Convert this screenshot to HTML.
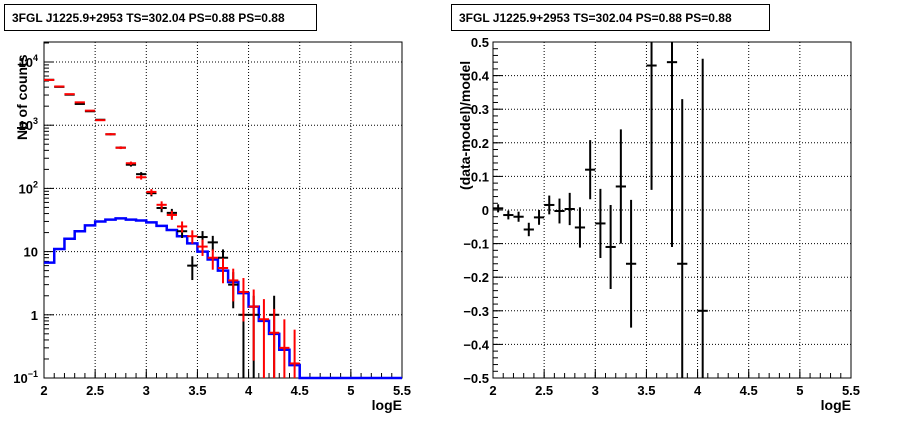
<!DOCTYPE html>
<html><head><meta charset="utf-8"><style>
body{margin:0;background:#fff;font-family:"Liberation Sans",sans-serif}
svg text{font-family:"Liberation Sans",sans-serif;font-weight:bold}
</style></head><body>
<svg id="c" width="898" height="421" xmlns="http://www.w3.org/2000/svg">
<rect width="898" height="421" fill="#fff"/>
<g><rect x="4.5" y="4.5" width="312" height="26" fill="#fff" stroke="#000"/><text x="12" y="22" font-size="12">3FGL J1225.9+2953 TS=302.04 PS=0.88 PS=0.88</text></g>
<g><rect x="451.5" y="4.5" width="318" height="26" fill="#fff" stroke="#000"/><text x="459" y="22" font-size="12">3FGL J1225.9+2953 TS=302.04 PS=0.88 PS=0.88</text></g>
<g id="L"></g><g id="R"></g>
<text x="27" y="140" font-size="14" transform="rotate(-90 27 140)">Nb of counts</text>
<text x="402" y="410" font-size="14" text-anchor="end">logE</text>
<text x="470" y="190" font-size="14" transform="rotate(-90 470 190)">(data-model)/model</text>
<text x="851" y="410" font-size="14" text-anchor="end">logE</text>
</svg>
<script>
const binCenters=[2.05,2.15,2.25,2.35,2.45,2.55,2.65,2.75,2.85,2.95,3.05,3.15,3.25,3.35,3.45,3.55,3.65,3.75,3.85,3.95,4.05,4.15,4.25,4.35,4.45];
const modelTotal=[5200,4100,3100,2300,1700,1200,720,440,250,150,88,55,38,25,17.5,12,8,5.5,3.5,2.3,1.35,0.85,0.52,0.3,0.17];
const sourceModel=[6.7,11,16,21,26,30,32,33.5,32,31,29,25.5,22,17.5,13.5,10,7.5,5,3.3,2.2,1.35,0.8,0.5,0.28,0.16];
const dataCounts=[5230,4040,3040,2170,1660,1220,718,441,237,168,84,49,41,21,6,17,14,8,3,1,1,0,1,0,0];
const resX=[2.05,2.15,2.25,2.35,2.45,2.55,2.65,2.75,2.85,2.95,3.05,3.15,3.25,3.35,3.55,3.75,3.85,4.05];
const resY=[0.005,-0.015,-0.02,-0.058,-0.022,0.015,-0.003,0.003,-0.052,0.12,-0.04,-0.11,0.07,-0.16,0.43,0.44,-0.16,-0.3];
const resErr=[0.012,0.013,0.015,0.02,0.022,0.028,0.037,0.048,0.06,0.088,0.103,0.125,0.17,0.19,0.37,0.55,0.49,0.75];
const xTicks=["2","2.5","3","3.5","4","4.5","5","5.5"];
const resTicks=["0.5","0.4","0.3","0.2","0.1","0","-0.1","-0.2","-0.3","-0.4","-0.5"];
const NS="http://www.w3.org/2000/svg";
function mk(p,t,a){const e=document.createElementNS(NS,t);for(const k in a)e.setAttribute(k,a[k]);p.appendChild(e);return e;}
const T=42,B=378;
// left
const L=document.getElementById('L');
const lx=v=>44+(v-2)/3.5*358;
const ly=v=>B-(Math.log10(v)+1)*63.2;
const clampY=y=>Math.max(T,Math.min(B,y));
function frame(g,x0){mk(g,'rect',{x:x0,y:T,width:358,height:B-T,fill:'none',stroke:'#000'});}
// grid x
xTicks.forEach((t,i)=>{const v=parseFloat(t);const x=lx(v);
 if(i>0&&i<xTicks.length-1){const l=mk(L,'line',{x1:x,x2:x,y1:T,y2:B,stroke:'#000','stroke-dasharray':'1 2'});}
 const tx=mk(L,'text',{x:x,y:395,'font-size':13,'text-anchor':'middle'});tx.textContent=t;
 
 mk(L,'line',{x1:x,x2:x,y1:B,y2:B-9,stroke:'#000'});});
for(let v=2;v<5.5;v+=0.1){mk(L,'line',{x1:lx(v),x2:lx(v),y1:B,y2:B-5,stroke:'#000'});}
const decLabels=["10<tspan dy='-6' font-size='9'>−1</tspan>","1","10","10<tspan dy='-6' font-size='9'>2</tspan>","10<tspan dy='-6' font-size='9'>3</tspan>","10<tspan dy='-6' font-size='9'>4</tspan>"];
for(let d=-1;d<=4;d++){const y=ly(Math.pow(10,d));
 if(d>-1){mk(L,'line',{x1:44,x2:402,y1:y,y2:y,stroke:'#000','stroke-dasharray':'1 2'});}
 const tx=mk(L,'text',{x:38,y:y+5,'font-size':13,'text-anchor':'end'});tx.innerHTML=decLabels[d+1];
 
 for(let m=1;m<10;m++){const yy=ly(m*Math.pow(10,d));if(yy<T)break;mk(L,'line',{x1:44,x2:44+(m==1?10:5),y1:yy,y2:yy,stroke:'#000'});}}
frame(L,44);
// blue histogram
let p='M'+lx(2)+','+ly(sourceModel[0]);
binCenters.forEach((c,i)=>{p+=' L'+lx(c-0.05)+','+ly(sourceModel[i])+' L'+lx(c+0.05)+','+ly(sourceModel[i]);});
p+=' L'+lx(4.5)+','+ly(0.1)+' L'+lx(5.5)+','+ly(0.1);
const bl=mk(L,'path',{d:p,fill:'none',stroke:'#0000ff','stroke-width':2.5});

// black data
binCenters.forEach((c,i)=>{const n=dataCounts[i];if(n<=0)return;const e=Math.sqrt(n);
 const g=mk(L,'g',{});
 const y=ly(n);mk(g,'line',{x1:lx(c-0.05),x2:lx(c+0.05),y1:y,y2:y,stroke:'#000','stroke-width':2});
 const lo=n-e>0?ly(n-e):B;mk(g,'line',{x1:lx(c),x2:lx(c),y1:clampY(ly(n+e)),y2:lo,stroke:'#000','stroke-width':2});});
// red model
binCenters.forEach((c,i)=>{const n=modelTotal[i];const e=Math.sqrt(n);
 const g=mk(L,'g',{});
 const y=ly(n);mk(g,'line',{x1:lx(c-0.05),x2:lx(c+0.05),y1:y,y2:y,stroke:'#ff0000','stroke-width':2});
 const lo=n-e>0.1?ly(n-e):B;mk(g,'line',{x1:lx(c),x2:lx(c),y1:clampY(ly(n+e)),y2:lo,stroke:'#ff0000','stroke-width':2});});
// right
const R=document.getElementById('R');
const rx=v=>493+(v-2)/3.5*358;
const ry=v=>T+(0.5-v)*(B-T);
xTicks.forEach((t,i)=>{const x=rx(parseFloat(t));
 if(i>0&&i<xTicks.length-1)mk(R,'line',{x1:x,x2:x,y1:T,y2:B,stroke:'#000','stroke-dasharray':'1 2'});
 const tx=mk(R,'text',{x:x,y:395,'font-size':13,'text-anchor':'middle'});tx.textContent=t;
 
 mk(R,'line',{x1:x,x2:x,y1:B,y2:B-9,stroke:'#000'});});
for(let v=2;v<5.5;v+=0.1)mk(R,'line',{x1:rx(v),x2:rx(v),y1:B,y2:B-5,stroke:'#000'});
resTicks.forEach((t,i)=>{const v=parseFloat(t);const y=ry(v);
 if(i>0&&i<resTicks.length-1)mk(R,'line',{x1:493,x2:851,y1:y,y2:y,stroke:'#000','stroke-dasharray':'1 2'});
 const tx=mk(R,'text',{x:489,y:y+5,'font-size':13,'text-anchor':'end'});tx.textContent=t.replace('-','−');
 
 mk(R,'line',{x1:493,x2:503,y1:y,y2:y,stroke:'#000'});});
for(let v=-0.5;v<0.5;v+=0.02)mk(R,'line',{x1:493,x2:498,y1:ry(v),y2:ry(v),stroke:'#000'});
frame(R,493);
resX.forEach((c,i)=>{const g=mk(R,'g',{});
 const y=ry(resY[i]);mk(g,'line',{x1:rx(c-0.05),x2:rx(c+0.05),y1:y,y2:y,stroke:'#000','stroke-width':2});
 mk(g,'line',{x1:rx(c),x2:rx(c),y1:clampY(ry(resY[i]+resErr[i])),y2:clampY(ry(resY[i]-resErr[i])),stroke:'#000','stroke-width':2});});
</script>
</body></html>
